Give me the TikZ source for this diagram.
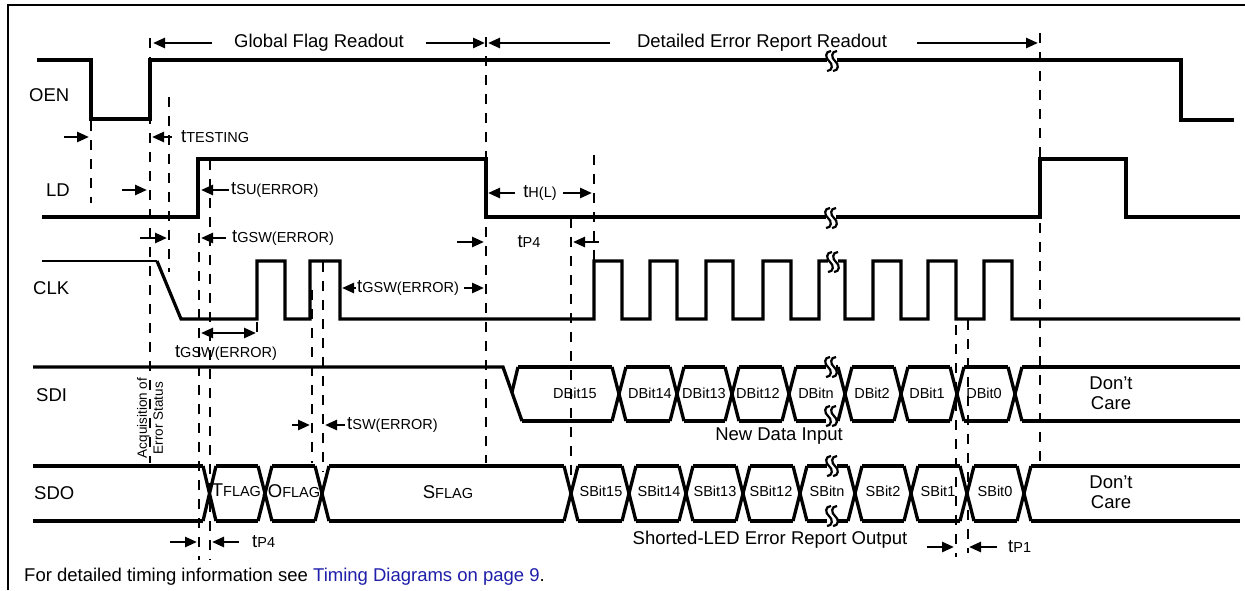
\documentclass[tikz,border=0pt]{standalone}
\usepackage{fontspec}
\setmainfont{Liberation Sans}
\usetikzlibrary{arrows.meta}
\definecolor{linkblue}{RGB}{30,30,170}
\newcommand\bigf{\fontsize{18.5}{20.5}\selectfont}
\newcommand\subf{\fontsize{14.5}{17}\selectfont}
\newcommand\tsub[1]{t{\subf #1}}
\tikzset{
  brk/.pic={
    \fill[white] (-4,-10) rectangle (6,10);
    \draw[line width=2.2pt] (0,-10) .. controls (-6,-10) and (-6,-3) .. (-2,0) .. controls (2,3) and (2,10) .. (-4,10);
    \draw[line width=2.2pt] (6,-10) .. controls (0,-10) and (0,-3) .. (4,0) .. controls (8,3) and (8,10) .. (2,10);
  }
}
\begin{document}
\begin{tikzpicture}[x=1pt,y=-1pt,
  sig/.style={line width=3.2pt, line join=miter},
  bus/.style={line width=3.3pt},
  guide/.style={line width=2.8pt, dash pattern=on 10pt off 9pt},
  arr/.style={line width=2.6pt, -{Triangle[length=12pt,width=10pt]}},
  dbl/.style={line width=2.6pt, {Triangle[length=12pt,width=10pt]}-{Triangle[length=12pt,width=10pt]}},
  lbl/.style={font=\bigf, inner sep=0pt, anchor=west},
  tl/.style={font=\bigf, inner sep=0pt},
  bl/.style={font=\subf, inner sep=0pt},
]
\useasboundingbox (0,0) rectangle (1245,590);
\fill[white] (0,0) rectangle (1245,590);
% frame
\draw[line width=2.6pt] (8,590) -- (8,5) -- (1245,5);

% dashed guide lines
\draw[guide] (91,121) -- (91,203);
\draw[guide] (150,38) -- (150,463);
\draw[guide] (169,97) -- (169,272);
\draw[guide] (199,233) -- (199,560);
\draw[guide] (210,160) -- (210,560);
\draw[guide] (257,322) -- (257,340);
\draw[guide] (312,290) -- (312,463);
\draw[guide] (323,262) -- (323,472);
\draw[guide] (486,37) -- (486,463);
\draw[guide] (571,218) -- (571,480);
\draw[guide] (594,155) -- (594,262);
\draw[guide] (956,325) -- (956,557);
\draw[guide] (968,320) -- (968,553);
\draw[guide] (1040,33) -- (1040,463);

% OEN
\draw[sig] (37,60) -- (91,60) -- (91,119) -- (150,119) -- (150,60) -- (1181,60) -- (1181,120) -- (1234,120);
% LD
\draw[sig] (42,217) -- (198,217) -- (198,159) -- (486,159) -- (486,217) -- (1040,217) -- (1040,159) -- (1126,159) -- (1126,217) -- (1240,217);
% CLK
\draw[line width=2.4pt] (42,261) -- (157,261);
\draw[sig] (157,261) -- (181,319) -- (257,319) -- (257,261) -- (285,261) -- (285,319) -- (310,319) -- (310,261) -- (340,261) -- (340,319)
  -- (594,319) -- (594,261) -- (622,261) -- (622,319) -- (650,319) -- (650,261) -- (677,261) -- (677,319)
  -- (706,319) -- (706,261) -- (733,261) -- (733,319) -- (763,319) -- (763,261) -- (791,261) -- (791,319)
  -- (819,319) -- (819,261) -- (845,261) -- (845,319) -- (873,319) -- (873,261) -- (901,261) -- (901,319)
  -- (928,319) -- (928,261) -- (956,261) -- (956,319) -- (984,319) -- (984,261) -- (1012,261) -- (1012,319) -- (1240,319);

% SDI
\draw[bus] (33,367) -- (503,367) -- (522,421);
\draw[bus] (512,392) -- (518,367);
\draw[bus] (518,367) -- (612,367) (522,421) -- (612,421);
\foreach \c in {619,677,732,789,845,901,957,1015}
  \draw[bus] (\c-7,367) -- (\c+7,421) (\c-7,421) -- (\c+7,367);
\foreach \a/\b in {619/677,677/732,732/789,789/845,845/901,901/957,957/1015}
  \draw[bus] (\a+7,367) -- (\b-7,367) (\a+7,421) -- (\b-7,421);
\draw[bus] (1022,367) -- (1240,367) (1022,421) -- (1240,421);

% SDO
\draw[bus] (33,466) -- (203,466) (33,521) -- (203,521);
\draw[bus] (203,466) -- (216,521) (203,521) -- (216,466);
\foreach \c in {265,322,571,629,686,743,800,855,911,967,1024}
  \draw[bus] (\c-7,466) -- (\c+7,521) (\c-7,521) -- (\c+7,466);
\foreach \a/\b in {209/265,265/322,322/571,571/629,629/686,686/743,743/800,800/855,855/911,911/967,967/1024}
  \draw[bus] (\a+7,466) -- (\b-7,466) (\a+7,521) -- (\b-7,521);
\draw[bus] (1031,466) -- (1240,466) (1031,521) -- (1240,521);

% break marks
\foreach \p in {(831,61),(830,218),(832,262),(830,367),(830,416),(831,466),(831,516)}
  \pic at \p {brk};

% signal names
\node[lbl] (oen) at (29,95) {OEN};
\node[lbl] (ld) at (46,190) {LD};
\node[lbl] (clk) at (33,288) {CLK};
\node[lbl] (sdi) at (36,395) {SDI};
\node[lbl] (sdo) at (34,493) {SDO};

% phase labels
\node[tl] (gfr) at (319,43) {Global Flag Readout};
\node[tl] (derr) at (762,43) {Detailed Error Report Readout};
\draw[arr] (212,43) -- (153,43);
\draw[arr] (426,43) -- (485,43);
\draw[arr] (610,43) -- (488,43);
\draw[arr] (917,43) -- (1038,43);

% timing labels
\node[lbl] (ttest) at (181,137) {\tsub{TESTING}};
\draw[arr] (64,137) -- (89,137);
\draw[arr] (172,137) -- (152,137);

\node[lbl] (tsu) at (231,190) {\tsub{SU(ERROR)}};
\draw[arr] (122,190) -- (147,190);
\draw[arr] (229,190) -- (201,190);

\node[lbl] (tgsw1) at (232,238) {\tsub{GSW(ERROR)}};
\draw[arr] (140,238) -- (167,238);
\draw[arr] (226,238) -- (201,238);

\node[lbl] (tgsw2) at (357,288) {\tsub{GSW(ERROR)}};
\draw[arr] (356,288) -- (342,288);
\draw[arr] (464,288) -- (484,288);

\node[tl] (tgsw3) at (226,353) {\tsub{GSW(ERROR)}};
\draw[dbl] (201,333) -- (256,333);

\node[tl] (thl) at (540,193) {\tsub{H(L)}};
\draw[arr] (515,193) -- (488,193);
\draw[arr] (563,193) -- (592,193);

\node[tl] (tp4a) at (529,242) {\tsub{P4}};
\draw[arr] (457,242) -- (484,242);
\draw[arr] (599,242) -- (573,242);

\node[lbl] (tsw) at (347,425) {\tsub{SW(ERROR)}};
\draw[arr] (292,425) -- (310,425);
\draw[arr] (345,425) -- (325,425);

\node[lbl] (tp4b) at (252,542) {\tsub{P4}};
\draw[arr] (170,542) -- (197,542);
\draw[arr] (239,542) -- (212,542);

\node[lbl] (tp1) at (1008,547) {\tsub{P1}};
\draw[arr] (927,547) -- (954,547);
\draw[arr] (997,547) -- (969,547);

\node[font=\fontsize{13.5}{16}\selectfont, rotate=90, align=center, inner sep=0pt] (acq) at (150,418) {Acquisition of\\Error Status};

% bus contents
\foreach \x/\t [count=\i] in {575/DBit15,650/DBit14,704/DBit13,758/DBit12,816/DBitn,872/DBit2,927/DBit1,984/DBit0}
  \node[bl] (d\i) at (\x,393) {\t};
\foreach \x/\t [count=\i] in {601/SBit15,659/SBit14,715/SBit13,771/SBit12,827/SBitn,883/SBit2,938/SBit1,995/SBit0}
  \node[bl] (s\i) at (\x,491) {\t};
\node[tl] (tflag) at (239,491) {T{\subf FLAG};};
\node[tl] (oflag) at (294,491) {O{\subf FLAG}};
\node[tl] (sflag) at (448,492) {S{\subf FLAG}};
\node[tl, align=center] (dc1) at (1111,393) {Don’t\\Care};
\node[tl, align=center] (dc2) at (1111,492) {Don’t\\Care};
\node[tl] (ndi) at (779,436) {New Data Input};
\node[tl] (sleo) at (770,540) {Shorted-LED Error Report Output};

% footer
\node[lbl] (foot) at (24,577) {For detailed timing information see \textcolor{linkblue}{Timing Diagrams on page 9}.};
\end{tikzpicture}
\end{document}
